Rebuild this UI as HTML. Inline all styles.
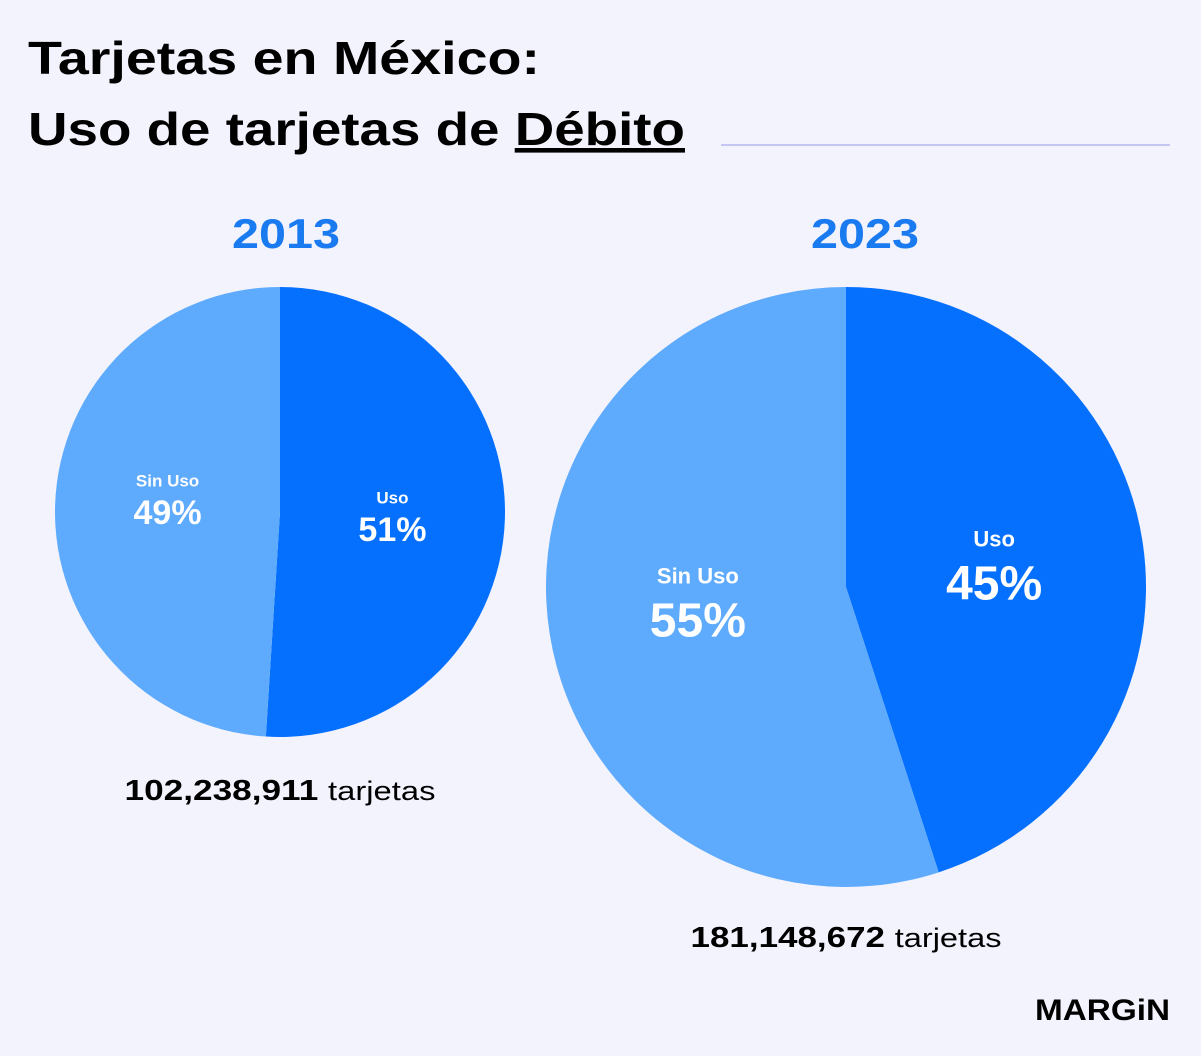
<!DOCTYPE html>
<html><head><meta charset="utf-8"><style>
body{margin:0;background:#f3f3fd;}
svg{display:block;font-family:"Liberation Sans",sans-serif;}
</style></head><body>
<svg id="c" width="1201" height="1056" viewBox="0 0 1201 1056">
<rect width="1201" height="1056" fill="#f3f3fd"/>
<text x="28" y="74" font-size="46" font-weight="bold" fill="#000" textLength="512" lengthAdjust="spacingAndGlyphs">Tarjetas en México:</text>
<text x="28" y="145" font-size="46" font-weight="bold" fill="#000" textLength="657" lengthAdjust="spacingAndGlyphs">Uso de tarjetas de <tspan text-decoration="underline">Débito</tspan></text>
<line x1="721" y1="145" x2="1170" y2="145" stroke="#b8b8ee" stroke-width="1.5"/>
<g id="pies"></g>
<text x="1035" y="1020" font-size="30" font-weight="bold" fill="#000" textLength="135" lengthAdjust="spacingAndGlyphs">MARGiN</text>
</svg>
<script>
const years = ["2013","2023"];
const usoPct = [51,45];
const sinUsoPct = [49,55];
const totals = ["102,238,911","181,148,672"];
const layout=[{cx:280,cy:512,r:225,yy:248,yx:286,ty:800,tx:280,lf:[17,34],yw:108},{cx:846,cy:587,r:300,yy:248,yx:865,ty:947,tx:846,lf:[22,48],yw:108}];
const ns="http://www.w3.org/2000/svg";
const g=document.getElementById('pies');
function mk(t,a){const e=document.createElementNS(ns,t);for(const k in a)e.setAttribute(k,a[k]);g.appendChild(e);return e;}
function pt(L,f){const a=f*2*Math.PI;return [L.cx+L.r*Math.sin(a),L.cy-L.r*Math.cos(a)];}
function txt(x,y,s,fs,fill,w){const t=mk('text',{x:x,y:y,'font-size':fs,fill:fill,'font-weight':w,'text-anchor':'middle'});t.textContent=s;return t;}
years.forEach((yr,i)=>{
  const L=layout[i];const f=usoPct[i]/(usoPct[i]+sinUsoPct[i]);
  const e=pt(L,f);
  const big=f>0.5?1:0;
  const p1=mk('path',{d:`M${L.cx},${L.cy}L${L.cx},${L.cy-L.r}A${L.r},${L.r} 0 ${big} 1 ${e[0]},${e[1]}Z`,fill:'#0570fe'});
  
  
  const p2=mk('path',{d:`M${L.cx},${L.cy}L${e[0]},${e[1]}A${L.r},${L.r} 0 ${1-big} 1 ${L.cx},${L.cy-L.r}Z`,fill:'#5eabfd'});
  
  
  const lr=L.r*0.5;
  const a1=f*Math.PI, a2=(f+(1-f)/2)*2*Math.PI;
  const ux=L.cx+lr*Math.sin(a1), uy=L.cy-lr*Math.cos(a1);
  const sx=L.cx+lr*Math.sin(a2), sy=L.cy-lr*Math.cos(a2)-10;
  let t=txt(ux,uy-L.lf[1]*0.35,'Uso',L.lf[0],'#fff','bold');
  
  
  t=txt(ux,uy+L.lf[1]*0.75,usoPct[i]+'%',L.lf[1],'#fff','bold');
  
  
  t=txt(sx,sy-L.lf[1]*0.35,'Sin Uso',L.lf[0],'#fff','bold');
  
  
  t=txt(sx,sy+L.lf[1]*0.75,sinUsoPct[i]+'%',L.lf[1],'#fff','bold');
  
  
  t=txt(L.yx,L.yy,yr,42,'#1a7af0','bold');
  t.setAttribute('textLength',L.yw);
  t.setAttribute('lengthAdjust','spacingAndGlyphs');
  
  
  t=mk('text',{x:L.tx,y:L.ty,'font-size':29,fill:'#000','text-anchor':'middle',textLength:311,lengthAdjust:'spacingAndGlyphs'});
  t.innerHTML='<tspan font-weight="bold">'+totals[i]+'</tspan> <tspan font-size="27">tarjetas</tspan>';
  
  
});
</script>
</body></html>
